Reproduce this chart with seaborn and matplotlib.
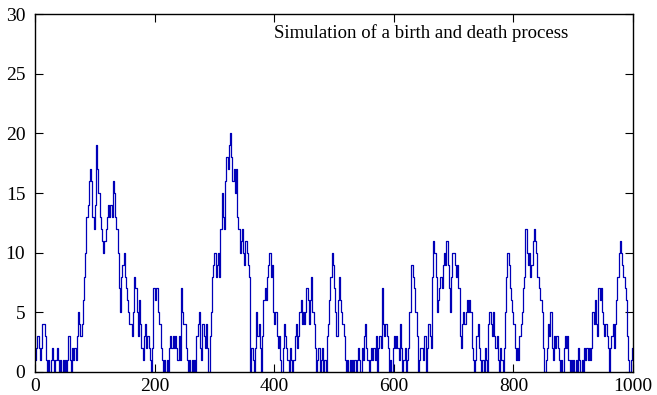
import numpy as np
import pandas as pd
import matplotlib
matplotlib.use("Agg")
import matplotlib.pyplot as plt
import seaborn as sns

population = [
    1, 2, 3, 2, 1,   2, 4, 4, 3, 1,   0, 1, 0, 1, 2,   1, 0, 1, 2, 1,
    0, 1, 0, 1, 0,   1, 0, 1, 3, 1,   0, 2, 1, 2, 1,   3, 5, 4, 3, 4,
    6, 8, 10, 13, 14,   16, 17, 16, 13, 12,   14, 19, 17, 15, 13,   12, 11, 10, 11, 12,
    13, 14, 13, 14, 13,   16, 15, 13, 12, 10,   7, 5, 8, 9, 10,   8, 7, 6, 5, 4,
    4, 3, 5, 8, 7,   5, 3, 6, 4, 2,   1, 3, 4, 2, 3,   2, 1, 0, 2, 7,
    6, 7, 7, 5, 4,   2, 1, 0, 1, 0,   1, 0, 2, 3, 2,   3, 2, 3, 2, 1,
    3, 1, 7, 5, 4,   4, 2, 1, 0, 1,   0, 1, 0, 1, 0,   3, 4, 5, 2, 1,
    4, 3, 2, 4, 2,   0, 3, 5, 8, 9,   10, 8, 9, 10, 8,   12, 15, 13, 12, 16,
    18, 17, 19, 20, 18,   16, 17, 15, 17, 13,   12, 10, 11, 12, 10,   9, 11, 10, 9, 8,
    0, 2, 1, 0, 2,   5, 3, 4, 2, 0,   3, 6, 7, 6, 8,   9, 10, 8, 9, 5,
    4, 5, 3, 2, 3,   1, 0, 2, 4, 3,   2, 1, 0, 2, 1,   0, 1, 3, 4, 2,
    3, 5, 6, 4, 5,   4, 5, 7, 6, 4,   6, 8, 5, 4, 2,   0, 1, 2, 0, 1,
    2, 0, 1, 0, 3,   4, 6, 8, 10, 9,   7, 5, 3, 6, 8,   6, 5, 4, 3, 1,
    0, 1, 0, 1, 0,   1, 0, 1, 0, 1,   2, 1, 0, 2, 1,   3, 4, 2, 1, 0,
    1, 2, 1, 2, 1,   3, 0, 2, 3, 2,   7, 4, 3, 4, 3,   2, 0, 1, 0, 2,
    3, 2, 3, 2, 1,   4, 2, 0, 1, 2,   0, 1, 2, 5, 9,   9, 8, 7, 5, 3,
    0, 1, 2, 2, 1,   3, 3, 0, 2, 4,   3, 2, 8, 11, 10,   8, 5, 6, 7, 8,
    7, 9, 10, 9, 11,   9, 7, 5, 8, 10,   10, 9, 8, 9, 7,   3, 2, 4, 5, 4,
    5, 6, 5, 6, 5,   2, 1, 0, 1, 3,   4, 2, 1, 0, 1,   0, 2, 1, 0, 4,
    5, 4, 3, 5, 3,   2, 3, 1, 0, 2,   1, 0, 2, 5, 8,   10, 9, 7, 6, 5,
    4, 2, 1, 2, 1,   3, 4, 5, 7, 8,   12, 10, 9, 10, 8,   9, 11, 12, 11, 10,
    8, 7, 6, 6, 5,   2, 0, 1, 2, 4,   3, 5, 2, 1, 3,   2, 3, 2, 1, 0,
    1, 0, 2, 3, 2,   3, 1, 0, 1, 0,   1, 0, 1, 0, 2,   1, 0, 1, 0, 2,
    1, 2, 1, 2, 1,   2, 5, 4, 6, 4,   3, 7, 6, 7, 5,   4, 3, 4, 3, 2,
    0, 2, 3, 4, 2,   4, 6, 8, 10, 11,   10, 9, 8, 7, 6,   3, 1, 0, 1, 2,
    2,
]
time_step = 2
x_ticks = [0, 200, 400, 600, 800, 1000]
y_ticks = [0, 5, 10, 15, 20, 25, 30]
title_text = "Simulation of a birth and death process"

df = pd.DataFrame({
    "t": np.arange(len(population)) * time_step,
    "n": population,
})

sns.set_theme(style="white")
plt.rcParams["font.family"] = ["Liberation Serif", "DejaVu Serif"]

fig = plt.figure(figsize=(6.57, 3.95), dpi=100)
ax = fig.add_axes([35 / 657, 1 - 372 / 395, 598 / 657, 358 / 395])

sns.lineplot(data=df, x="t", y="n", ax=ax, drawstyle="steps-post",
             color="#0000b8", linewidth=0.9, estimator=None)

ax.set_xlim(0, 1000)
ax.set_ylim(0, 30)
ax.set_xticks(x_ticks)
ax.set_yticks(y_ticks)
ax.set_xticklabels([str(v) for v in x_ticks])
ax.set_yticklabels([str(v) for v in y_ticks])
ax.set_xlabel("")
ax.set_ylabel("")
ax.tick_params(direction="in", length=6, width=0.8, colors="black",
               labelsize=14, top=True, right=True, bottom=True, left=True,
               pad=4)
ax.tick_params(axis="y", pad=7)
for sp in ax.spines.values():
    sp.set_color("black")
    sp.set_linewidth(1.0)
    sp.set_visible(True)

ax.text(0.4, 0.948, title_text, transform=ax.transAxes, ha="left", va="center",
        fontsize=13.5, color="black")

fig.savefig("out.png", dpi=100)
